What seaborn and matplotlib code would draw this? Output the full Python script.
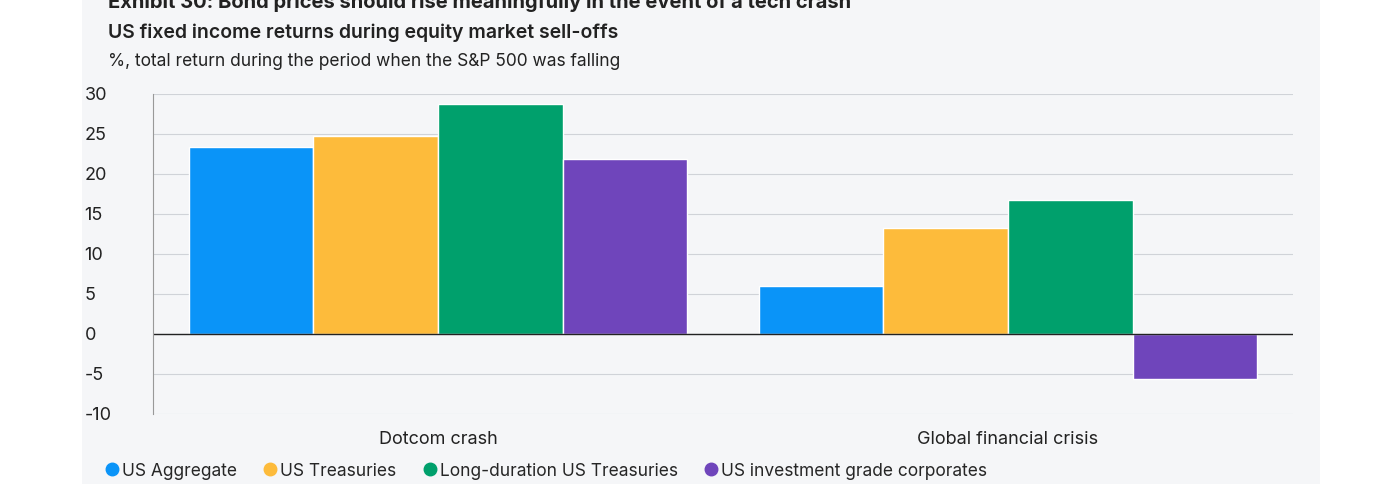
import matplotlib
matplotlib.use("Agg")
import matplotlib.pyplot as plt
import seaborn as sns
import pandas as pd

categories = ["Dotcom crash", "Global financial crisis"]
series = ["US Aggregate", "US Treasuries", "Long-duration US Treasuries", "US investment grade corporates"]
dotcom = [23.4, 24.8, 28.8, 21.9]
gfc = [6.0, 13.2, 16.8, -5.6]
colors = ["#0a94f8", "#fdbb3b", "#00a06c", "#6f45bb"]
yticks = [30, 25, 20, 15, 10, 5, 0, -5, -10]

rows = []
for s, a, b in zip(series, dotcom, gfc):
    rows.append((categories[0], s, a))
    rows.append((categories[1], s, b))
df = pd.DataFrame(rows, columns=["period", "series", "value"])

sns.set_style("white")
plt.rcParams["font.family"] = ["Inter", "DejaVu Sans"]
plt.rcParams["axes.unicode_minus"] = False

bg = "#f5f6f8"
fig = plt.figure(figsize=(14, 4.84), dpi=100, facecolor="white")
panel = fig.add_axes([82/1400, 0, (1320-82)/1400, 1])
panel.set_facecolor(bg); panel.set_xticks([]); panel.set_yticks([])
for sp in panel.spines.values(): sp.set_visible(False)

ax = fig.add_axes([153/1400, 1-414/484, (1293-153)/1400, (414-94)/484])
ax.set_facecolor(bg)
sns.barplot(data=df, x="period", y="value", hue="series", hue_order=series,
            order=categories, palette=colors, width=0.875, gap=0, ax=ax,
            edgecolor="white", linewidth=1, legend=False, saturation=1)
ax.set_xlim(-0.5, 1.5)
ax.set_ylim(-10, 30)
ax.set_yticks(yticks)
ax.yaxis.grid(True, color="#d0d3d8", linewidth=0.8)
ax.set_axisbelow(True)
ax.axhline(0, color="#222222", linewidth=1)
for k in ["top", "right", "bottom"]:
    ax.spines[k].set_visible(False)
ax.spines["left"].set_color("#999999")
ax.set_xlabel(""); ax.set_ylabel("")
ax.tick_params(axis="y", length=0, labelsize=13, pad=18, colors="#222222")
ax.tick_params(axis="x", length=0, labelsize=13, pad=12, colors="#222222")
for lab in ax.get_yticklabels():
    lab.set_horizontalalignment("left")
    lab.set_x(-0.038)

fig.text(108/1400, 1-3/484, "Exhibit 30: Bond prices should rise meaningfully in the event of a tech crash",
         fontsize=14.5, fontweight="bold", va="center", color="#222222")
fig.text(108/1400, 1-33/484, "US fixed income returns during equity market sell-offs",
         fontsize=14, fontweight="semibold", va="center", color="#222222")
fig.text(108/1400, 1-62/484, "%, total return during the period when the S&P 500 was falling",
         fontsize=12.5, va="center", color="#222222")

handles = [plt.Line2D([], [], marker="o", ls="", color=c, markersize=9) for c in colors]
fig.legend(handles, series, loc="center left", bbox_to_anchor=(96/1400, 1-471/484),
           ncol=4, frameon=False, fontsize=12.5, handletextpad=0.1, columnspacing=1.4,
           handlelength=1, borderaxespad=0)
fig.savefig("out.png", dpi=100, facecolor="white")
